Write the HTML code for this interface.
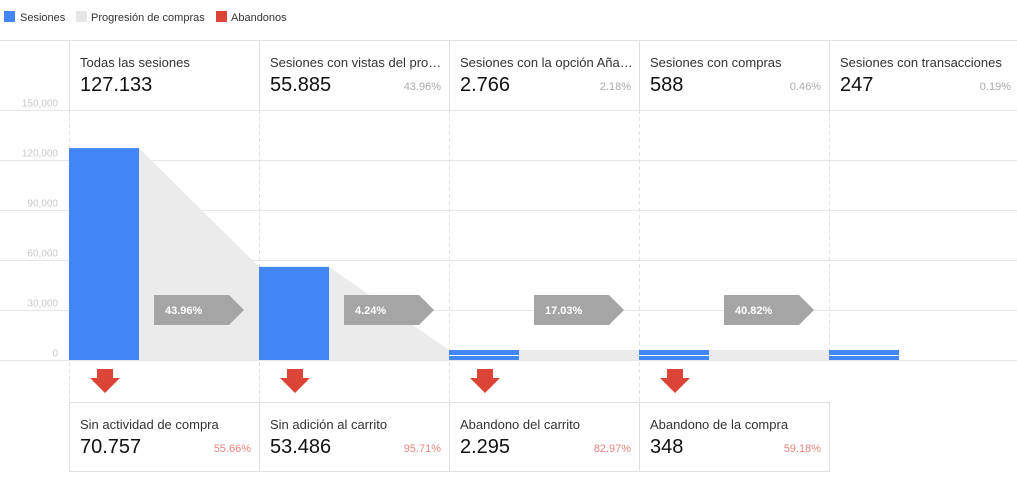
<!DOCTYPE html>
<html><head><meta charset="utf-8"><style>
body{margin:0;background:#fff;font-family:"Liberation Sans",Arial,sans-serif;}
svg text{font-family:"Liberation Sans",Arial,sans-serif;}
</style></head><body>
<svg id="c" width="1017" height="482" xmlns="http://www.w3.org/2000/svg">
<g>
<rect x="4" y="11" width="11" height="11" fill="#4285f4"/>
<text x="20" y="21" font-size="11" fill="#333">Sesiones</text>
<rect x="76" y="11" width="11" height="11" fill="#e6e6e6"/>
<text x="91" y="21" font-size="11" fill="#333">Progresión de compras</text>
<rect x="216" y="11" width="11" height="11" fill="#db4437"/>
<text x="231" y="21" font-size="11" fill="#333">Abandonos</text>
</g>
</svg>
<script>
const stages=["Todas las sesiones","Sesiones con vistas del pro…","Sesiones con la opción Aña…","Sesiones con compras","Sesiones con transacciones"];
const sessions=[127133,55885,2766,588,247];
const sessionLabels=["127.133","55.885","2.766","588","247"];
const sessionPcts=["","43.96%","2.18%","0.46%","0.19%"];
const convPcts=["43.96%","4.24%","17.03%","40.82%"];
const dropNames=["Sin actividad de compra","Sin adición al carrito","Abandono del carrito","Abandono de la compra"];
const dropLabels=["70.757","53.486","2.295","348"];
const dropPcts=["55.66%","95.71%","82.97%","59.18%"];
const ticks=[0,30000,60000,90000,120000,150000];
const tickLabels=["0","30,000","60,000","90,000","120,000","150,000"];

const svg=document.getElementById('c');
const NS="http://www.w3.org/2000/svg";
const X0=69,CW=190,BW=70,BASE=360,TOP=110,MAX=150000;
const y=v=>BASE-(v/MAX)*(BASE-TOP);
const colX=i=>X0+i*CW;
function mk(t,a,txt){const e=document.createElementNS(NS,t);for(const k in a)e.setAttribute(k,a[k]);if(txt!==undefined)e.textContent=txt;svg.appendChild(e);return e;}
function barTop(v){const h=BASE-y(v);return h<10?BASE-10:y(v);}

// grid
mk('line',{x1:0,y1:40.5,x2:1017,y2:40.5,stroke:'#e0e0e0'});
ticks.forEach((t,i)=>{
  const yy=Math.round(y(t))+0.5;
  const l=mk('line',{x1:0,y1:yy,x2:1017,y2:yy,stroke:'#e6e6e6'});
  
  
  const tx=mk('text',{x:58,y:yy-4,'font-size':10,fill:'#c8c8c8','text-anchor':'end'},tickLabels[i]);
  
  
});
// column separators
for(let i=0;i<5;i++){
  const x=colX(i)+0.5;
  const s=mk('line',{x1:x,y1:40,x2:x,y2:110,stroke:'#e0e0e0'});
  
  
  const d=mk('line',{x1:x,y1:110,x2:x,y2:(i<4?402:360),stroke:'#e0e0e0','stroke-dasharray':'4,3'});
  
  
}
// progression areas
for(let i=0;i<4;i++){
  const x1=colX(i)+BW,x2=colX(i+1);
  const p=mk('polygon',{points:`${x1},${barTop(sessions[i])} ${x2},${barTop(sessions[i+1])} ${x2},${BASE} ${x1},${BASE}`,fill:'#ebebeb'});
  
  
}
// bars
sessions.forEach((v,i)=>{
  const x=colX(i),t=barTop(v);
  const b=mk('rect',{x:x,y:t,width:BW,height:BASE-t,fill:'#4285f4'});
  
  
  if(BASE-y(v)<10){mk('rect',{x:x,y:BASE-5,width:BW,height:1,fill:'#fff'});}
  // header
  const h=mk('text',{x:x+11,y:67,'font-size':13,fill:'#333'},stages[i]);
  
  
  const n=mk('text',{x:x+11,y:91,'font-size':20,fill:'#111'},sessionLabels[i]);
  
  
  if(sessionPcts[i]){
    const pc=mk('text',{x:x+CW-8,y:90,'font-size':11,fill:'#aaa','text-anchor':'end'},sessionPcts[i]);
    
    
  }
});
// conversion arrows, drop arrows, drop boxes
convPcts.forEach((p,i)=>{
  const x=colX(i)+85;
  const a=mk('polygon',{points:`${x},295 ${x+75},295 ${x+90},310 ${x+75},325 ${x},325`,fill:'#a5a5a5'});
  
  
  const t=mk('text',{x:x+11,y:314,'font-size':11,'font-weight':'bold',fill:'#fff'},p);
  
  
  const ax=colX(i)+36;
  const d=mk('polygon',{points:`${ax-8},369 ${ax+8},369 ${ax+8},378 ${ax+15},378 ${ax},393 ${ax-15},378 ${ax-8},378`,fill:'#db4437'});
  
  
  const bx=colX(i)+0.5;
  const r=mk('rect',{x:bx,y:402.5,width:CW,height:69,fill:'none',stroke:'#e0e0e0'});
  
  
  const nm=mk('text',{x:colX(i)+11,y:429,'font-size':13,fill:'#333'},dropNames[i]);
  
  
  const v=mk('text',{x:colX(i)+11,y:453,'font-size':20,fill:'#111'},dropLabels[i]);
  
  
  const pc=mk('text',{x:colX(i)+CW-8,y:452,'font-size':11,fill:'#e8847c','text-anchor':'end'},dropPcts[i]);
  
  
});
</script>
</body></html>
